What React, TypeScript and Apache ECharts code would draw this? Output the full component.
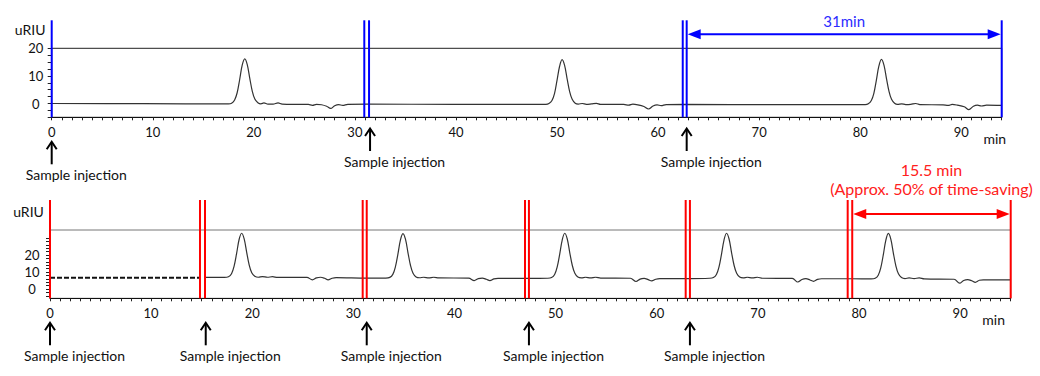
import React, { useEffect, useRef } from 'react';
import * as echarts from 'echarts';

const FONT = 'Lato, "Noto Sans", sans-serif';

// ---------- axes ----------
const xLabelValues = [0, 10, 20, 30, 40, 50, 60, 70, 80, 90];
const yLabelValues = [0, 10, 20];
const topXMax = 94;
const bottomXMax = 95;
const topYMin = -5;
const topYMax = 20;
const bottomYMin = -5.5;
const bottomYMax = 34.7;
const topYTicks = [-5, -2.5, 0, 2.5, 5, 7.5, 10, 12.5, 15, 17.5, 20];
const bottomYTicks = [-4, -2, 0, 2, 4, 6, 8, 10, 12, 14, 16, 18, 20, 22, 24, 26, 28, 30];
const yName = 'uRIU';
const xName = 'min';

// ---------- annotations ----------
const topMarkers = [0, 30.93, 31.4, 62.44, 62.83, 94];
const bottomMarkers = [0, 14.83, 15.33, 30.92, 31.32, 46.97, 47.36, 62.86, 63.28, 78.88, 79.33, 95];
const topInjections = [0, 31.5, 62.83];
const bottomInjections = [0, 15.4, 31.32, 47.36, 63.28];
const injectionLabel = 'Sample injection';
const topSpan = [62.83, 94];
const topSpanLabels = ['31min'];
const bottomSpan = [79.33, 95];
const bottomSpanLabels = ['15.5 min', '(Approx. 50% of time-saving)'];

// ---------- traces ----------
const topTrace = [
  [0, 0.0], [9, -0.05], [17.5, -0.15], [17.8, 0.1], [18.1, 1.3], [18.35, 3.9], [18.6, 8.7], [18.85, 13.9],
  [19.1, 16.2], [19.35, 14.1], [19.6, 9.1], [19.85, 4.4], [20.1, 1.6], [20.4, 0.3], [20.7, -0.1], [21.0, 0.2],
  [21.4, -0.2], [21.9, -0.2], [22.4, 0.2], [22.8, -0.2], [24.5, -0.3], [25.4, -0.35], [25.8, -0.65], [26.2, -0.3],
  [26.7, -0.45], [27.2, -1.0], [27.6, -1.8], [28.0, -0.8], [28.4, -0.4], [28.8, -0.7], [29.3, -0.3], [31.2, -0.25],
  [40, -0.3], [48.9, -0.3], [49.2, 0.0], [49.5, 1.1], [49.75, 3.6], [50.0, 8.4], [50.25, 13.4], [50.5, 15.9],
  [50.75, 13.8], [51.0, 8.9], [51.25, 4.3], [51.5, 1.5], [51.8, 0.1], [52.1, -0.2], [52.5, 0.0], [52.9, -0.3],
  [53.4, -0.15], [53.9, 0.05], [54.3, -0.3], [56.6, -0.35], [57.1, -0.6], [57.5, -0.25], [58.0, -0.5], [58.6, -1.1],
  [59.05, -2.0], [59.5, -0.9], [59.9, -0.5], [60.3, -0.8], [60.8, -0.4], [62.6, -0.35],
  [72, -0.4], [80.5, -0.4], [80.8, -0.1], [81.1, 1.1], [81.35, 3.7], [81.6, 8.5], [81.85, 13.6], [82.1, 16.0],
  [82.35, 13.9], [82.6, 9.0], [82.85, 4.4], [83.1, 1.5], [83.4, 0.1], [83.7, -0.3], [84.1, -0.1], [84.5, -0.4],
  [85.0, -0.3], [85.5, 0.0], [85.9, -0.4], [88.2, -0.5], [88.7, -0.7], [89.1, -0.35], [89.6, -0.6], [90.3, -1.2],
  [90.75, -2.2], [91.2, -1.0], [91.6, -0.6], [92.0, -0.9], [92.5, -0.6], [94, -0.7],
];

const bottomDashed = [[0, 6.6], [14.83, 6.6]];

const bottomTrace = [
  [15.33, 6.8], [17.2, 6.85], [17.65, 7.2], [17.95, 9.0], [18.2, 13.3], [18.45, 20.8], [18.7, 29.1], [18.95, 32.8],
  [19.2, 29.5], [19.45, 21.5], [19.7, 14.0], [19.95, 9.5], [20.25, 7.5], [20.6, 6.9], [21.0, 7.3], [21.5, 6.9],
  [22.0, 7.2], [22.5, 6.8], [25.4, 6.8], [25.95, 5.4], [26.35, 6.5], [26.75, 6.9], [27.15, 6.3], [27.5, 5.3],
  [27.9, 6.3], [28.3, 6.7], [31.3, 6.4],
  [33.2, 6.4], [33.6, 6.8], [33.9, 8.6], [34.15, 12.9], [34.4, 20.4], [34.65, 28.8], [34.9, 32.6], [35.15, 29.3],
  [35.4, 21.3], [35.65, 13.8], [35.9, 9.2], [36.2, 7.1], [36.55, 6.6], [36.95, 6.9], [37.45, 6.5], [37.95, 6.9],
  [38.45, 6.5], [41.4, 6.4], [41.95, 4.9], [42.35, 6.1], [42.75, 6.4], [43.15, 5.7], [43.5, 4.9], [43.9, 5.9],
  [44.3, 6.2], [47.3, 6.2],
  [49.2, 6.3], [49.6, 6.7], [49.9, 8.5], [50.15, 12.8], [50.4, 20.4], [50.65, 28.8], [50.9, 32.8], [51.15, 29.4],
  [51.4, 21.3], [51.65, 13.8], [51.9, 9.2], [52.2, 7.0], [52.55, 6.5], [52.95, 6.9], [53.45, 6.5], [53.95, 6.9],
  [54.45, 6.4], [57.4, 6.3], [57.95, 4.4], [58.35, 5.8], [58.75, 6.2], [59.15, 5.5], [59.5, 4.7], [59.9, 5.7],
  [60.3, 6.1], [63.3, 6.1],
  [65.2, 6.3], [65.6, 6.7], [65.9, 8.5], [66.15, 12.8], [66.4, 20.4], [66.65, 28.8], [66.9, 32.8], [67.15, 29.4],
  [67.4, 21.3], [67.65, 13.8], [67.9, 9.2], [68.2, 7.0], [68.55, 6.5], [68.95, 6.9], [69.45, 6.5], [69.95, 6.9],
  [70.45, 6.3], [73.4, 6.2], [73.95, 4.1], [74.35, 5.6], [74.75, 6.1], [75.15, 5.3], [75.5, 4.5], [75.9, 5.6],
  [76.3, 6.0], [79.3, 6.0],
  [81.2, 5.9], [81.6, 6.3], [81.9, 8.1], [82.15, 12.4], [82.4, 20.0], [82.65, 28.6], [82.9, 32.7], [83.15, 29.2],
  [83.4, 21.0], [83.65, 13.5], [83.9, 8.9], [84.2, 6.7], [84.55, 6.1], [84.95, 6.5], [85.45, 6.1], [85.95, 6.5],
  [86.45, 5.9], [89.4, 5.7], [89.95, 3.4], [90.35, 5.0], [90.75, 5.5], [91.15, 4.8], [91.5, 3.9], [91.9, 5.1],
  [92.3, 5.4], [95, 5.4],
];

// ---------- builders ----------
const BLUE = '#0000ff';
const RED = '#ff0000';

function xAxis(gridIndex: number, max: number) {
  return {
    type: 'value', gridIndex, min: 0, max, interval: 1,
    axisLine: { show: true, onZero: false, lineStyle: { color: '#111', width: 1 } },
    axisTick: { show: true, length: 3, lineStyle: { color: '#222' } },
    axisLabel: {
      customValues: xLabelValues,
      formatter: (v: number) => (v % 10 === 0 ? String(v) : ''),
      margin: 8, fontSize: 13, fontFamily: FONT, color: '#111',
    },
    splitLine: { show: false },
  };
}

function yAxis(gridIndex: number, min: number, max: number, ticks: number[], margin: number) {
  return {
    type: 'value', gridIndex, min, max,
    axisLine: { show: true, onZero: false, lineStyle: { color: '#111', width: 1 } },
    axisTick: { show: true, customValues: ticks, length: 4, lineStyle: { color: '#222' } },
    axisLabel: {
      customValues: yLabelValues,
      formatter: (v: number) => (yLabelValues.indexOf(v) >= 0 ? String(v) : ''),
      align: 'center', margin, fontSize: 13, fontFamily: FONT, color: '#111',
    },
    splitLine: { show: false },
  };
}

function markerSeries(idx: number, data: number[], yMin: number, yMax: number, color: string, ext: number) {
  return {
    type: 'custom', xAxisIndex: idx, yAxisIndex: idx, clip: false, silent: true, z: 6,
    data: data.map((t) => [t, yMin]),
    renderItem: (_p: any, api: any) => {
      const t = api.value(0);
      const a = api.coord([t, yMin]);
      const b = api.coord([t, yMax]);
      return {
        type: 'line',
        shape: { x1: a[0], y1: a[1], x2: a[0], y2: b[1] - ext },
        style: { stroke: color, lineWidth: 2 },
      };
    },
  };
}

function injectionSeries(idx: number, data: number[], yMin: number, alwaysLow: boolean) {
  return {
    type: 'custom', xAxisIndex: idx, yAxisIndex: idx, clip: false, silent: true, z: 7,
    data: data.map((t) => [t, yMin]),
    renderItem: (_p: any, api: any) => {
      const t = api.value(0);
      const p = api.coord([t, yMin]);
      const nearLabel = Math.abs(t - Math.round(t / 10) * 10) < 0.6;
      const low = alwaysLow || nearLabel;
      const tip = p[1] + (low ? 24 : 10.7);
      const tail = tip + 23;
      const x = p[0];
      return {
        type: 'group',
        children: [
          { type: 'line', shape: { x1: x, y1: tip + 1, x2: x, y2: tail }, style: { stroke: '#000', lineWidth: 2 } },
          {
            type: 'polyline',
            shape: { points: [[x - 5, tip + 8], [x, tip + 0.5], [x + 5, tip + 8]] },
            style: { stroke: '#000', lineWidth: 2, fill: null },
          },
          {
            type: 'text', x: x - 26, y: tail + 10.5,
            style: { text: injectionLabel, fill: '#111', fontSize: 14, fontFamily: FONT, align: 'left', verticalAlign: 'middle' },
          },
        ],
      };
    },
  };
}

function spanSeries(idx: number, span: number[], yMax: number, color: string, textColor: string, dy: number,
  labels: string[], labelOffsets: number[], fontSize: number) {
  return {
    type: 'custom', xAxisIndex: idx, yAxisIndex: idx, clip: false, silent: true, z: 8,
    encode: { x: [0, 1] },
    data: [span],
    renderItem: (_p: any, api: any) => {
      const a = api.coord([api.value(0), yMax]);
      const b = api.coord([api.value(1), yMax]);
      const y = a[1] - dy;
      const x1 = a[0] + 1;
      const x2 = b[0] - 1;
      const mid = (a[0] + b[0]) / 2;
      const children: any[] = [
        { type: 'line', shape: { x1: x1 + 8, y1: y, x2: x2 - 8, y2: y }, style: { stroke: color, lineWidth: 2 } },
        { type: 'polygon', shape: { points: [[x1, y], [x1 + 13, y - 5], [x1 + 13, y + 5]] }, style: { fill: color } },
        { type: 'polygon', shape: { points: [[x2, y], [x2 - 13, y - 5], [x2 - 13, y + 5]] }, style: { fill: color } },
      ];
      labels.forEach((s, i) => {
        children.push({
          type: 'text', x: mid, y: y - labelOffsets[i],
          style: { text: s, fill: textColor, fontSize, fontFamily: FONT, align: 'center', verticalAlign: 'middle' },
        });
      });
      return { type: 'group', children };
    },
  };
}

function decorSeries(idx: number, yMin: number, yMax: number) {
  return {
    type: 'custom', xAxisIndex: idx, yAxisIndex: idx, clip: false, silent: true, z: 8,
    data: [[0, yMin]],
    renderItem: (_p: any, api: any) => {
      const top = api.coord([0, yMax]);
      const m = api.coord([90, yMin]);
      return {
        type: 'group',
        children: [
          {
            type: 'text', x: top[0] - 21.5, y: top[1] - 18.5,
            style: { text: yName, fill: '#111', fontSize: 14, fontFamily: FONT, align: 'center', verticalAlign: 'middle' },
          },
          {
            type: 'text', x: m[0] + 33.5, y: m[1] + 20.7,
            style: { text: xName, fill: '#111', fontSize: 14, fontFamily: FONT, align: 'center', verticalAlign: 'middle' },
          },
        ],
      };
    },
  };
}

function traceSeries(idx: number, data: number[][], dashed: boolean) {
  return {
    type: 'line', xAxisIndex: idx, yAxisIndex: idx, data, showSymbol: false, symbol: 'none',
    smooth: dashed ? false : 0.35, silent: true, z: 3,
    lineStyle: dashed ? { color: '#111', width: 1.8, type: [5, 2] } : { color: '#333', width: 1.2 },
  };
}

export default function App() {
  const ref = useRef<HTMLDivElement>(null);
  useEffect(() => {
    const chart = echarts.init(ref.current as HTMLDivElement, null, { renderer: 'svg' });
    const option: any = {
      animation: false,
      backgroundColor: '#ffffff',
      grid: [
        { left: 51.7, top: 48.3, width: 950, height: 69, show: true, borderColor: '#222', borderWidth: 1, outerBoundsMode: 'none', containLabel: false },
        { left: 50, top: 230, width: 960.7, height: 68.3, show: true, borderColor: '#777', borderWidth: 1, outerBoundsMode: 'none', containLabel: false },
      ],
      xAxis: [xAxis(0, topXMax), xAxis(1, bottomXMax)],
      yAxis: [
        yAxis(0, topYMin, topYMax, topYTicks, 16),
        yAxis(1, bottomYMin, bottomYMax, bottomYTicks, 18),
      ],
      series: [
        traceSeries(0, topTrace, false),
        traceSeries(1, bottomDashed, true),
        traceSeries(1, bottomTrace, false),
        markerSeries(0, topMarkers, topYMin, topYMax, BLUE, 28),
        markerSeries(1, bottomMarkers, bottomYMin, bottomYMax, RED, 30),
        injectionSeries(0, topInjections, topYMin, false),
        injectionSeries(1, bottomInjections, bottomYMin, true),
        spanSeries(0, topSpan, topYMax, BLUE, '#2b2bff', 14, topSpanLabels, [13.6], 15),
        spanSeries(1, bottomSpan, bottomYMax, RED, '#ff2020', 16, bottomSpanLabels, [45, 25.7], 16),
        decorSeries(0, topYMin, topYMax),
        decorSeries(1, bottomYMin, bottomYMax),
      ],
    };
    chart.setOption(option);
    return () => chart.dispose();
  }, []);
  return (
    <div
      ref={ref}
      style={{ position: 'absolute', left: 0, top: 0, width: 1040, height: 376, background: '#fff' }}
    />
  );
}
